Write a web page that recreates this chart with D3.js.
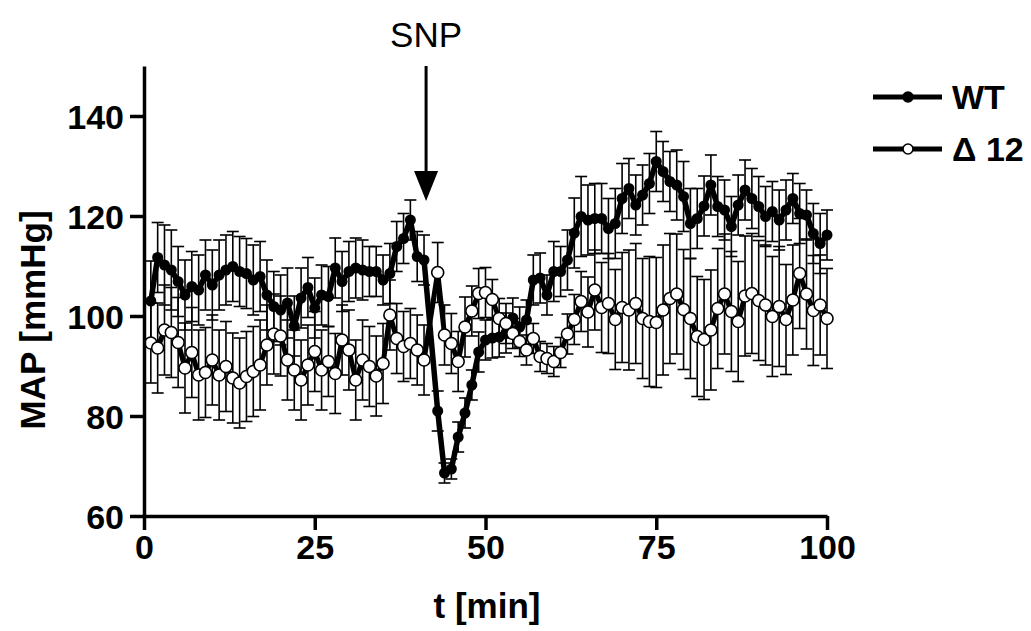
<!DOCTYPE html>
<html>
<head>
	<title>MAP after SNP</title>
	<script src="https://cdn.jsdelivr.net/npm/d3@7"></script>
</head>
<style type="text/css">
	body { margin:0; background:#fff; }
	text { font-family: "Liberation Sans", Arial, sans-serif; }
</style>
<body>
</body>
</html>
<script type="text/javascript">
	// minutes sampled (no reading at 42, injection time)
	var minutes = [1,2,3,4,5,6,7,8,9,10,11,12,13,14,15,16,17,18,19,20,
		21,22,23,24,25,26,27,28,29,30,31,32,33,34,35,36,37,38,39,40,41,
		43,44,45,46,47,48,49,50,51,52,53,54,55,56,57,58,59,60,
		61,62,63,64,65,66,67,68,69,70,71,72,73,74,75,76,77,78,79,80,
		81,82,83,84,85,86,87,88,89,90,91,92,93,94,95,96,97,98,99,100];

	var wtMean = [103,111.7,110.2,109.2,106.9,104.2,105.9,105.2,108.2,106.2,108.2,109.2,109.9,108.9,108.5,107.2,107.9,104.2,101.9,101.2,
		102.6,98,103.6,105.7,101.6,104.2,103.9,109.6,106.9,108.9,109.6,109.2,108.9,108.9,107.2,108.5,113.9,115.5,119.2,111.9,111.2,
		81,68.6,69.4,75.8,80.6,86.2,92.8,95.2,95.6,95.8,96.6,99.6,97.8,99.2,107.2,107.6,104.2,108.9,
		108.9,111.2,116.6,119.9,119.2,119.5,119.5,117.5,118.5,123.5,125.5,122.2,124.2,126.5,130.9,128.9,126.9,126.2,123.9,118.5,
		119.5,122,126.2,121.9,121.2,117.9,122.2,125.2,123.5,121.9,119.9,120.9,119.2,121.2,123.5,120.5,120.2,116.5,114.5,116.2];
	var wtErr = [8,7,8,8,7,7,7,7,7,7,7,7,7,7,7,7,7,7,7,7,
		7,6,6,6,6,6,6,6,6,6,6,6,5,5,5,6,5,5,4,5,5,
		4,2,2,3,3,3,4,4,4,4,4,4,4,4,5,5,4,6,
		5,6,7,8,7,7,7,6,7,7,6,6,6,6,6,6,6,7,7,7,
		6,6,6,6,6,6,6,6,6,6,6,6,6,6,5,6,5,6,6,5];

	var d12Mean = [94.6,93.6,97.2,96.7,94.7,89.6,92.7,88.2,88.7,91.2,88.2,89.9,87.6,86.6,87.9,88.9,90.2,94.2,96.4,96,
		91.2,89.2,87.2,90.2,92.9,89.2,90.9,88.5,95.2,93.2,87.2,91.2,89.9,88,90.5,100.2,95.5,93.9,94.5,93.2,91.2,
		108.7,96.2,94.5,90.9,97.8,101,104.5,104.7,103.3,99.5,98.5,96.5,94.9,93.2,95.5,91.9,91.5,90.9,
		92.7,96.4,99.3,102.9,100.8,105.2,101.7,102.5,99.3,101.7,101.2,102.5,99.5,98.9,98.7,101.2,103.5,104.4,101.3,99.5,
		95.9,95.3,97.2,101.5,104.4,100.9,98.9,104,104.5,103.1,102.2,99.9,101.9,99.3,103.2,108.5,104.4,101.1,102.2,99.5];
	var d12Err = [8,9,9,9,9,9,9,9,9,9,9,9,9,9,9,9,9,8,8,8,
		8,8,8,8,8,8,7,8,7,8,8,8,8,8,8,7,7,7,7,7,7,
		6,6,6,6,6,5,5,5,4,4,4,3,3,3,3,3,3,3,
		3,4,5,6,7,8,9,10,10,11,12,12,12,13,13,13,13,12,12,12,
		12,12,12,12,12,12,12,12,12,12,12,12,12,11,11,11,11,11,10,10];

	var xTicks = [0,25,50,75,100];
	var yTicks = [60,80,100,120,140];
	var snpAt = 41.3;

	var width = 1031, height = 631;
	var svg = d3.select("body").append("svg").attr("width", width).attr("height", height);

	var x = d3.scaleLinear().domain([0,100]).range([144,827]);
	var y = d3.scaleLinear().domain([60,150]).range([516,66]);

	var wt = minutes.map(function(t,i){ return {t:t, v:wtMean[i], e:wtErr[i]}; });
	var d12 = minutes.map(function(t,i){ return {t:t, v:d12Mean[i], e:d12Err[i]}; });

	// error bars
	function errBars(data, cls) {
		var g = svg.append("g").attr("class", cls).attr("stroke", "#000").attr("stroke-width", 1.6);
		g.selectAll("line.v").data(data).enter().append("line")
			.attr("x1", function(d){return x(d.t)}).attr("x2", function(d){return x(d.t)})
			.attr("y1", function(d){return y(d.v + d.e)}).attr("y2", function(d){return y(d.v - d.e)});
		g.selectAll("line.top").data(data).enter().append("line")
			.attr("x1", function(d){return x(d.t)-6}).attr("x2", function(d){return x(d.t)+6})
			.attr("y1", function(d){return y(d.v + d.e)}).attr("y2", function(d){return y(d.v + d.e)});
		g.selectAll("line.bot").data(data).enter().append("line")
			.attr("x1", function(d){return x(d.t)-6}).attr("x2", function(d){return x(d.t)+6})
			.attr("y1", function(d){return y(d.v - d.e)}).attr("y2", function(d){return y(d.v - d.e)});
	}
	errBars(d12, "err-d12");
	errBars(wt, "err-wt");

	var line = d3.line().x(function(d){return x(d.t)}).y(function(d){return y(d.v)});
	svg.append("path").datum(wt).attr("d", line).attr("fill", "none").attr("stroke", "#000").attr("stroke-width", 5.5).attr("stroke-linejoin", "round");
	svg.append("path").datum(d12).attr("d", line).attr("fill", "none").attr("stroke", "#000").attr("stroke-width", 5).attr("stroke-linejoin", "round");

	svg.selectAll(".wtdot").data(wt).enter().append("circle")
		.attr("cx", function(d){return x(d.t)}).attr("cy", function(d){return y(d.v)})
		.attr("r", 5.5).attr("fill", "#000");
	svg.selectAll(".d12dot").data(d12).enter().append("circle")
		.attr("cx", function(d){return x(d.t)}).attr("cy", function(d){return y(d.v)})
		.attr("r", 6).attr("fill", "#fff").attr("stroke", "#000").attr("stroke-width", 1.6);

	// axes
	var xAxis = svg.append("g").attr("transform", "translate(0,516)")
		.call(d3.axisBottom(x).tickValues(xTicks).tickSize(14).tickPadding(5).tickSizeOuter(0));
	var yAxis = svg.append("g").attr("transform", "translate(144,0)")
		.call(d3.axisLeft(y).tickValues(yTicks).tickSize(14).tickPadding(6).tickSizeOuter(0));
	[xAxis, yAxis].forEach(function(a){
		a.select(".domain").attr("stroke-width", 3.5);
		a.selectAll(".tick line").attr("stroke-width", 3.5);
		a.selectAll(".tick text").attr("font-size", 34).attr("font-weight", "bold").attr("fill", "#000")
			.style("font-family", "'Liberation Sans', Arial, sans-serif");
	});
	xAxis.selectAll(".tick text").attr("dy", "0.72em");
	yAxis.selectAll(".tick text").attr("dy", "0.36em");

	svg.append("text").attr("x", 487).attr("y", 618).attr("text-anchor", "middle")
		.attr("font-size", 35).attr("font-weight", "bold").text("t [min]");
	svg.append("text").attr("transform", "translate(45,320) rotate(-90)").attr("text-anchor", "middle")
		.attr("font-size", 35).attr("font-weight", "bold").text("MAP [mmHg]");

	// SNP arrow
	var ax = x(snpAt);
	svg.append("text").attr("x", ax).attr("y", 47).attr("text-anchor", "middle").attr("font-size", 35).text("SNP");
	svg.append("line").attr("x1", ax).attr("x2", ax).attr("y1", y(150)).attr("y2", y(128))
		.attr("stroke", "#000").attr("stroke-width", 3);
	svg.append("path").attr("d", "M" + (ax-12) + "," + y(129) + "L" + (ax+12) + "," + y(129) + "L" + ax + "," + y(123) + "Z")
		.attr("fill", "#000");

	// legend
	var legend = [{name:"WT", fill:"#000", y:97}, {name:"\u0394 12", fill:"#fff", y:149}];
	var lg = svg.selectAll(".lg").data(legend).enter().append("g");
	lg.append("line").attr("x1", 873).attr("x2", 942).attr("y1", function(d){return d.y}).attr("y2", function(d){return d.y})
		.attr("stroke", "#000").attr("stroke-width", 5);
	lg.append("circle").attr("cx", 908).attr("cy", function(d){return d.y}).attr("r", 5)
		.attr("fill", function(d){return d.fill}).attr("stroke", "#000").attr("stroke-width", 1.6);
	lg.append("text").attr("x", 952).attr("y", function(d){return d.y + 12}).attr("font-size", 34).attr("font-weight", "bold")
		.text(function(d){return d.name});
</script>
